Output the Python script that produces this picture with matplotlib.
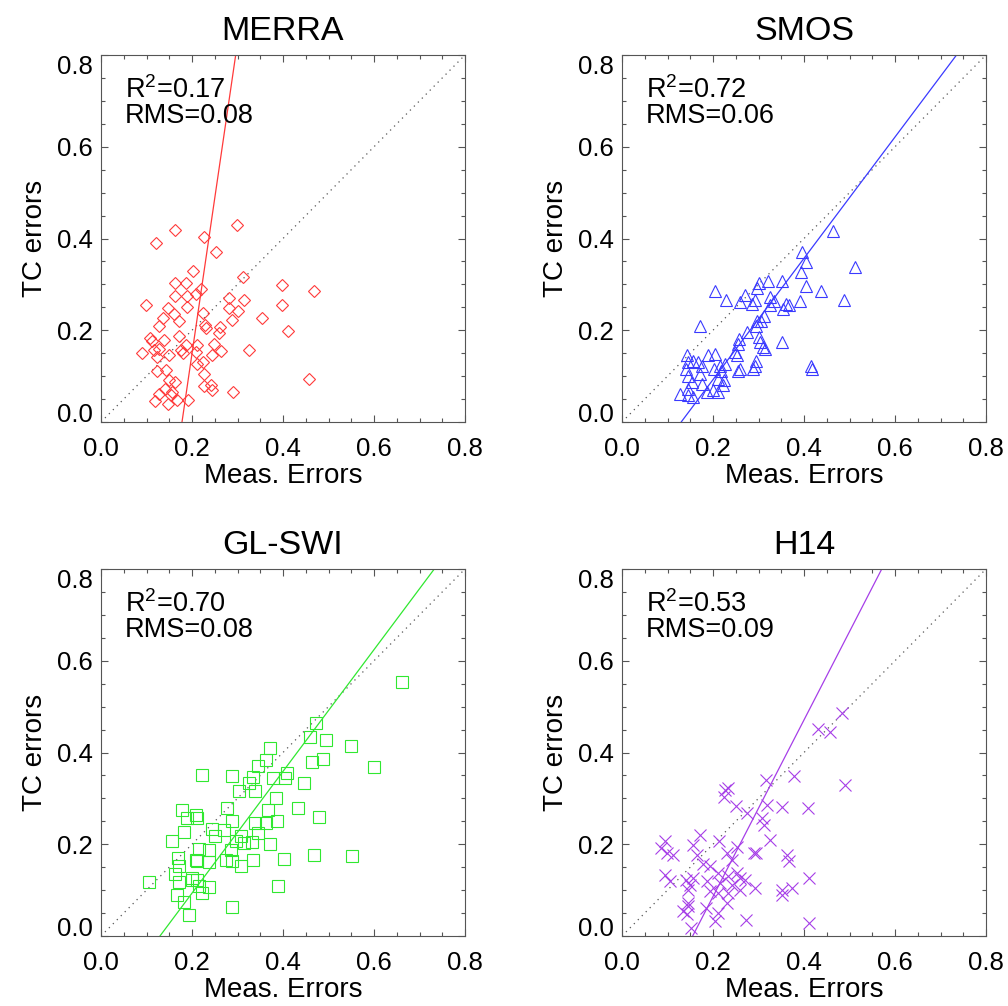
import numpy as np
import matplotlib
matplotlib.use('Agg')
import matplotlib.pyplot as plt
from matplotlib.ticker import MultipleLocator

plt.rcParams['font.family'] = ['Liberation Sans', 'DejaVu Sans']

# ─────────────────────────────────────────
# DATA
# ─────────────────────────────────────────

MERRA_X = [0.121, 0.162, 0.226, 0.298, 0.253, 0.203, 0.311, 0.398, 0.469, 0.398,
           0.099, 0.162, 0.186, 0.163, 0.189, 0.208, 0.219, 0.147, 0.160, 0.188,
           0.225, 0.282, 0.282, 0.302, 0.315, 0.289, 0.354, 0.410, 0.136, 0.128,
           0.171, 0.228, 0.230, 0.262, 0.259, 0.108, 0.112, 0.138, 0.172, 0.090,
           0.116, 0.127, 0.122, 0.149, 0.175, 0.180, 0.187, 0.208, 0.211, 0.248,
           0.245, 0.264, 0.326, 0.211, 0.224, 0.122, 0.143, 0.226, 0.149, 0.162,
           0.141, 0.156, 0.128, 0.226, 0.241, 0.245, 0.290, 0.458, 0.118, 0.147,
           0.167, 0.191, 0.153]
MERRA_Y = [0.390, 0.419, 0.404, 0.429, 0.370, 0.330, 0.315, 0.299, 0.285, 0.255,
           0.254, 0.303, 0.304, 0.275, 0.275, 0.279, 0.290, 0.249, 0.236, 0.250,
           0.237, 0.270, 0.249, 0.243, 0.266, 0.222, 0.227, 0.199, 0.226, 0.210,
           0.220, 0.212, 0.205, 0.208, 0.193, 0.183, 0.176, 0.178, 0.188, 0.151,
           0.156, 0.159, 0.141, 0.147, 0.156, 0.150, 0.167, 0.152, 0.167, 0.170,
           0.145, 0.154, 0.156, 0.127, 0.130, 0.111, 0.114, 0.105, 0.091, 0.087,
           0.072, 0.065, 0.062, 0.078, 0.080, 0.069, 0.065, 0.093, 0.045, 0.040,
           0.049, 0.049, 0.058]

SMOS_X = [0.464, 0.396, 0.405, 0.511, 0.393, 0.404, 0.437, 0.489, 0.391, 0.351,
          0.321, 0.301, 0.297, 0.205, 0.228, 0.271, 0.260, 0.286, 0.293, 0.326,
          0.334, 0.325, 0.360, 0.354, 0.367, 0.312, 0.306, 0.295, 0.297, 0.172,
          0.275, 0.257, 0.255, 0.301, 0.304, 0.309, 0.315, 0.351, 0.249, 0.253,
          0.142, 0.205, 0.190, 0.144, 0.157, 0.166, 0.176, 0.141, 0.216, 0.227,
          0.203, 0.217, 0.260, 0.288, 0.294, 0.293, 0.416, 0.418, 0.146, 0.172,
          0.153, 0.175, 0.212, 0.225, 0.222, 0.256, 0.127, 0.146, 0.155, 0.186,
          0.212, 0.201, 0.146]
SMOS_Y = [0.417, 0.370, 0.348, 0.337, 0.326, 0.297, 0.285, 0.266, 0.264, 0.308,
          0.308, 0.304, 0.293, 0.286, 0.266, 0.277, 0.261, 0.257, 0.266, 0.272,
          0.264, 0.254, 0.257, 0.246, 0.254, 0.232, 0.221, 0.210, 0.221, 0.210,
          0.196, 0.181, 0.170, 0.185, 0.174, 0.163, 0.159, 0.175, 0.152, 0.145,
          0.145, 0.149, 0.145, 0.130, 0.134, 0.130, 0.123, 0.116, 0.123, 0.127,
          0.116, 0.112, 0.116, 0.116, 0.134, 0.123, 0.123, 0.116, 0.101, 0.105,
          0.087, 0.083, 0.094, 0.091, 0.080, 0.112, 0.062, 0.058, 0.054, 0.065,
          0.065, 0.069, 0.072]

GLSWI_X = [0.662, 0.472, 0.459, 0.494, 0.550, 0.371, 0.363, 0.463, 0.489, 0.601,
           0.345, 0.223, 0.288, 0.408, 0.404, 0.377, 0.334, 0.326, 0.446, 0.303,
           0.339, 0.385, 0.433, 0.367, 0.277, 0.179, 0.209, 0.190, 0.212, 0.288,
           0.338, 0.362, 0.387, 0.480, 0.183, 0.245, 0.271, 0.251, 0.308, 0.345,
           0.157, 0.297, 0.314, 0.332, 0.371, 0.216, 0.238, 0.286, 0.170, 0.212,
           0.238, 0.275, 0.288, 0.334, 0.402, 0.469, 0.551, 0.172, 0.308, 0.163,
           0.201, 0.212, 0.172, 0.105, 0.216, 0.238, 0.389, 0.223, 0.168, 0.183,
           0.288, 0.194, 0.201, 0.208]
GLSWI_Y = [0.554, 0.465, 0.434, 0.427, 0.414, 0.409, 0.383, 0.380, 0.386, 0.369,
           0.370, 0.351, 0.349, 0.356, 0.344, 0.345, 0.347, 0.333, 0.333, 0.315,
           0.315, 0.300, 0.279, 0.274, 0.279, 0.275, 0.264, 0.257, 0.257, 0.250,
           0.246, 0.246, 0.250, 0.259, 0.226, 0.233, 0.232, 0.217, 0.217, 0.224,
           0.208, 0.206, 0.203, 0.204, 0.201, 0.190, 0.187, 0.187, 0.170, 0.163,
           0.161, 0.166, 0.163, 0.166, 0.168, 0.176, 0.175, 0.152, 0.152, 0.136,
           0.127, 0.123, 0.117, 0.117, 0.109, 0.107, 0.109, 0.094, 0.090, 0.074,
           0.063, 0.045, 0.122, 0.166]

H14_X = [0.483, 0.430, 0.458, 0.491, 0.377, 0.317, 0.227, 0.234, 0.225, 0.251,
         0.319, 0.352, 0.408, 0.275, 0.308, 0.312, 0.325, 0.214, 0.172, 0.157,
         0.085, 0.094, 0.113, 0.098, 0.252, 0.290, 0.295, 0.230, 0.164, 0.241,
         0.363, 0.366, 0.179, 0.194, 0.094, 0.105, 0.141, 0.157, 0.210, 0.234,
         0.252, 0.260, 0.149, 0.186, 0.216, 0.241, 0.271, 0.293, 0.352, 0.352,
         0.374, 0.411, 0.144, 0.194, 0.212, 0.234, 0.260, 0.230, 0.185, 0.144,
         0.135, 0.142, 0.210, 0.205, 0.151, 0.273, 0.411, 0.146]
H14_Y = [0.486, 0.452, 0.445, 0.329, 0.349, 0.340, 0.318, 0.322, 0.302, 0.284,
         0.286, 0.282, 0.279, 0.268, 0.257, 0.242, 0.210, 0.208, 0.221, 0.199,
         0.192, 0.206, 0.177, 0.181, 0.195, 0.181, 0.182, 0.181, 0.177, 0.166,
         0.177, 0.163, 0.156, 0.152, 0.134, 0.119, 0.123, 0.127, 0.137, 0.130,
         0.137, 0.127, 0.112, 0.119, 0.116, 0.112, 0.123, 0.105, 0.101, 0.090,
         0.105, 0.127, 0.101, 0.098, 0.094, 0.094, 0.101, 0.072, 0.062, 0.072,
         0.054, 0.047, 0.051, 0.033, 0.018, 0.035, 0.029, 0.065]

PANELS = ['MERRA', 'SMOS', 'GL-SWI', 'H14']
R2 = [0.17, 0.72, 0.70, 0.53]
RMS = [0.08, 0.06, 0.08, 0.09]
# fitted line: TC = slope * meas + intercept
FIT_SLOPE = [6.78, 1.322, 1.327, 1.925]
FIT_INTERCEPT = [-1.207, -0.172, -0.172, -0.299]

MARKERS = ['D', '^', 's', 'x']
MARKER_SIZES = [6.0, 8.6, 8.6, 8.6]
COLORS = ['#ff3a3a', '#3a3aff', '#30e830', '#a63ee8']

AX_POS = [
    [101 / 1008, 1 - 422 / 1006, 364 / 1008, 367 / 1006],
    [622 / 1008, 1 - 422 / 1006, 364 / 1008, 367 / 1006],
    [101 / 1008, 1 - 936 / 1006, 364 / 1008, 367 / 1006],
    [622 / 1008, 1 - 936 / 1006, 364 / 1008, 367 / 1006],
]


def draw_panel(ax, k, xs, ys):
    ax.set_xlim(0, 0.8)
    ax.set_ylim(0, 0.8)

    # 1:1 reference line
    lim = np.array([0, 0.8])
    ax.plot(lim, lim, color='#555555', linestyle=(0, (1, 3.5)), linewidth=0.9)

    ax.plot(xs, ys, linestyle='none', marker=MARKERS[k], markersize=MARKER_SIZES[k],
            markerfacecolor='none', markeredgecolor=COLORS[k], markeredgewidth=0.8,
            color=COLORS[k])

    fx = np.array([0, 0.8])
    ax.plot(fx, FIT_SLOPE[k] * fx + FIT_INTERCEPT[k], color=COLORS[k], linewidth=0.9)

    ax.text(0.066, 0.882, r'R$^{\mathregular{2}}$' + f'={R2[k]:.2f}', transform=ax.transAxes,
            fontsize=19.5, va='baseline', ha='left')
    ax.text(0.066, 0.814, f'RMS={RMS[k]:.2f}', transform=ax.transAxes,
            fontsize=19.5, va='baseline', ha='left')

    ax.set_title(PANELS[k], fontsize=24.5, pad=10.5)
    ax.set_xlabel('Meas. Errors', fontsize=20, labelpad=1)
    ax.set_ylabel('TC errors', fontsize=20, labelpad=6)

    ticks = [0.0, 0.2, 0.4, 0.6, 0.8]
    ax.set_xticks(ticks)
    ax.set_yticks(ticks)
    ax.set_xticklabels([f'{t:.1f}' for t in ticks])
    ax.set_yticklabels([f'{t:.1f}' for t in ticks])
    ax.xaxis.set_minor_locator(MultipleLocator(0.05))
    ax.yaxis.set_minor_locator(MultipleLocator(0.05))
    ax.tick_params(which='both', direction='in', top=True, right=True,
                   color='#555555', width=0.8, labelsize=18.5)
    ax.tick_params(which='major', length=5)
    ax.tick_params(which='minor', length=3)
    ax.tick_params(axis='x', which='major', pad=11)
    ax.tick_params(axis='y', which='major', pad=6)

    ylabels = ax.get_yticklabels()
    ylabels[0].set_va('baseline')
    ylabels[-1].set_va('top')

    for sp in ax.spines.values():
        sp.set_color('#555555')
        sp.set_linewidth(0.8)


fig = plt.figure(figsize=(10.08, 10.06), dpi=100)
data = [(MERRA_X, MERRA_Y), (SMOS_X, SMOS_Y), (GLSWI_X, GLSWI_Y), (H14_X, H14_Y)]
for k, (xs, ys) in enumerate(data):
    ax = fig.add_axes(AX_POS[k])
    draw_panel(ax, k, xs, ys)

fig.savefig('out.png', dpi=100)
